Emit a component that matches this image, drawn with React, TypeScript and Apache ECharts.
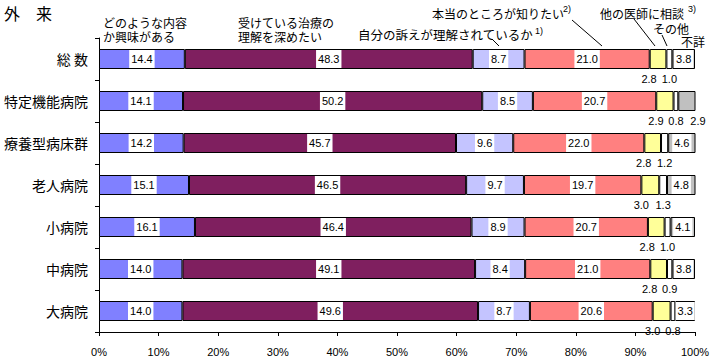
import React, { useEffect, useRef } from "react";
import * as echarts from "echarts";

const categories = ["総 数", "特定機能病院", "療養型病床群", "老人病院", "小病院", "中病院", "大病院"];
const seriesNames = [
  "どのような内容か興味がある",
  "受けている治療の理解を深めたい",
  "自分の訴えが理解されているか",
  "本当のところが知りたい",
  "他の医師に相談",
  "その他",
  "不詳",
];
const interest = [14.4, 14.1, 14.2, 15.1, 16.1, 14.0, 14.0];
const understandTreatment = [48.3, 50.2, 45.7, 46.5, 46.4, 49.1, 49.6];
const understoodComplaint = [8.7, 8.5, 9.6, 9.7, 8.9, 8.4, 8.7];
const wantTruth = [21.0, 20.7, 22.0, 19.7, 20.7, 21.0, 20.6];
const otherDoctor = [2.8, 2.9, 2.8, 3.0, 2.8, 2.8, 3.0];
const others = [1.0, 0.8, 1.2, 1.3, 1.0, 0.9, 0.8];
const unknown = [3.8, 2.9, 4.6, 4.8, 4.1, 3.8, 3.3];
const xTicks = [0, 10, 20, 30, 40, 50, 60, 70, 80, 90, 100];

const colors = ["#8080FF", "#7F1F5F", "#C4C4FF", "#FF8080", "#FFFF99", "#FFFFFF", "#C0C0C0"];
const FONT = "'Liberation Sans', 'Noto Sans CJK JP', sans-serif";
const JP = "'Noto Sans CJK JP', sans-serif";

const insideLabel = {
  show: true,
  position: "inside",
  color: "#000",
  fontSize: 11,
  fontFamily: FONT,
  lineHeight: 12,
  backgroundColor: "#fff",
  padding: [3, 2, 3, 2],
  formatter: (p: any) => p.value.toFixed(1),
};

export default function App() {
  const ref = useRef<HTMLDivElement>(null);
  useEffect(() => {
    const chart = echarts.init(ref.current!, null, { renderer: "svg" });
    const datasets = [interest, understandTreatment, understoodComplaint, wantTruth, otherDoctor, others, unknown];
    const below = (dx: number) => ({
      show: true, position: "bottom", distance: 4, offset: [dx, 0], color: "#000", fontSize: 11, fontFamily: FONT,
      backgroundColor: "transparent", padding: 0, formatter: (p: any) => p.value.toFixed(1),
    });
    const series = datasets.map((arr, i) => {
      let label: any = insideLabel;
      if (i === 4) label = below(-9);
      else if (i === 5) label = below(0);
      return {
        name: seriesNames[i],
        type: "bar",
        stack: "total",
        barWidth: 20,
        itemStyle: { color: colors[i], borderColor: "#000", borderWidth: 1 },
        label,
        data: arr.map((v) => (i === 6 && v < 3 ? { value: v, label: below(11) } : v)),
      };
    });

    const hdr = { fill: "#000", font: `12px ${JP}` };
    const sup = { fill: "#000", font: `9px ${FONT}` };
    chart.setOption({
      animation: false,
      textStyle: { fontFamily: FONT },
      grid: { left: 99, right: 21, top: 38, bottom: 28, containLabel: false },
      xAxis: {
        type: "value",
        min: xTicks[0],
        max: xTicks[xTicks.length - 1],
        interval: 10,
        splitLine: { show: false },
        axisLine: { show: true, lineStyle: { color: "#000", width: 1 } },
        axisTick: { show: true, length: 4, lineStyle: { color: "#000" } },
        axisLabel: { formatter: "{value}%", color: "#000", fontSize: 11, margin: 14, fontFamily: FONT },
      },
      yAxis: {
        type: "category",
        inverse: true,
        data: categories,
        axisLine: { show: true, lineStyle: { color: "#000", width: 1 } },
        axisTick: { show: true, length: 4, lineStyle: { color: "#000" } },
        axisLabel: { color: "#000", fontSize: 14, margin: 11, fontFamily: JP },
      },
      series,
      graphic: [
        { type: "text", left: 4, top: 5, style: { text: "外　来", fill: "#000", font: `16px ${JP}` } },
        { type: "text", x: 103, y: 16, style: { ...hdr, text: "どのような内容" } },
        { type: "text", x: 103, y: 30, style: { ...hdr, text: "か興味がある" } },
        { type: "text", x: 238, y: 16, style: { ...hdr, text: "受けている治療の" } },
        { type: "text", x: 238, y: 30, style: { ...hdr, text: "理解を深めたい" } },
        { type: "text", x: 358, y: 28, style: { ...hdr, font: `12.5px ${JP}`, text: "自分の訴えが理解されているか" } },
        { type: "text", x: 535, y: 26, style: { ...sup, text: "1)" } },
        { type: "text", x: 432, y: 7, style: { ...hdr, text: "本当のところが知りたい" } },
        { type: "text", x: 563, y: 4, style: { ...sup, text: "2)" } },
        { type: "text", x: 600, y: 7, style: { ...hdr, text: "他の医師に相談" } },
        { type: "text", x: 688, y: 4, style: { ...sup, text: "3)" } },
        { type: "text", x: 653, y: 22, style: { ...hdr, text: "その他" } },
        { type: "text", x: 681, y: 35, style: { ...hdr, text: "不詳" } },
        { type: "line", shape: { x1: 492, y1: 39, x2: 499, y2: 46 }, style: { stroke: "#000", lineWidth: 1 } },
        { type: "line", shape: { x1: 572, y1: 20, x2: 602, y2: 46 }, style: { stroke: "#000", lineWidth: 1 } },
        { type: "line", shape: { x1: 634, y1: 19, x2: 655, y2: 46 }, style: { stroke: "#000", lineWidth: 1 } },
        { type: "line", shape: { x1: 662, y1: 35, x2: 667, y2: 46 }, style: { stroke: "#000", lineWidth: 1 } },
      ],
    });
    return () => chart.dispose();
  }, []);
  return <div ref={ref} style={{ position: "fixed", left: 0, top: 0, width: 716, height: 360, background: "#fff" }} />;
}
